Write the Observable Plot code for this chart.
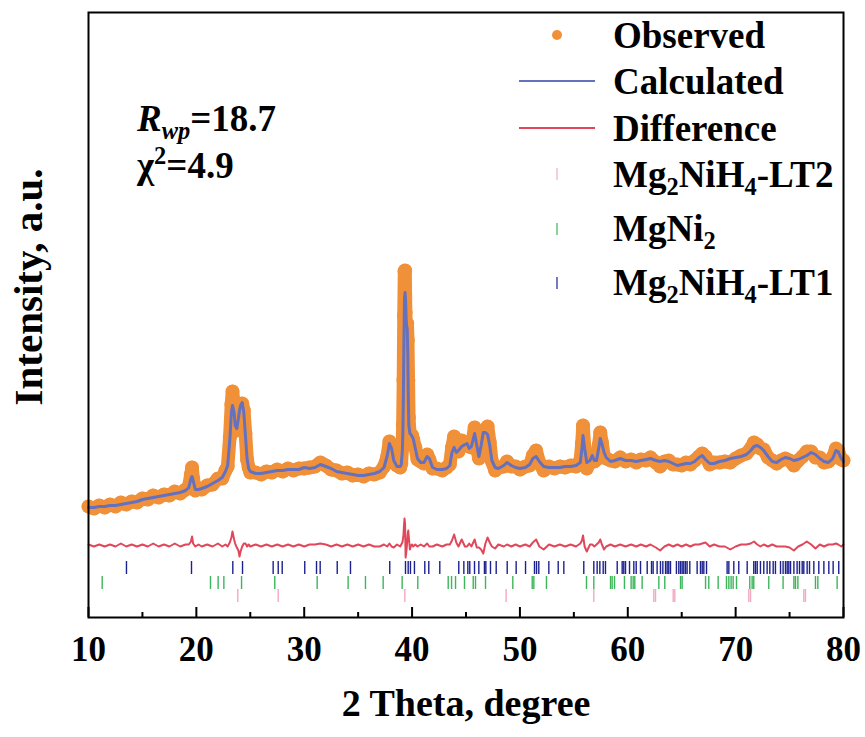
<!DOCTYPE html>
<html><head><meta charset="utf-8">
<script src="https://cdn.jsdelivr.net/npm/d3@7"></script>
<script src="https://cdn.jsdelivr.net/npm/@observablehq/plot@0.6"></script>
<style>html,body{margin:0;padding:0;background:#fff}</style>
</head><body><div id="chart"></div>
<script>
// ---- data (intensity in arbitrary units) ----
const twoTheta = [10.0,10.5,11.0,11.5,12.0,12.5,13.0,13.5,14.0,14.5,15.0,15.5,16.0,16.5,17.0,17.5,18.0,18.5,19.0,19.3,19.5,19.6,19.7,19.9,20.2,20.5,21.0,21.5,22.0,22.4,22.7,22.9,23.1,23.25,23.35,23.5,23.6,23.75,23.9,24.0,24.1,24.25,24.4,24.55,24.7,24.85,25.0,25.5,26.0,26.5,27.0,27.5,28.0,28.5,29.0,29.5,30.0,30.5,31.0,31.5,32.0,32.5,33.0,33.5,34.0,34.5,35.0,35.5,36.0,36.5,37.0,37.4,37.7,37.9,38.1,38.3,38.6,38.9,39.0,39.1,39.15,39.2,39.25,39.3,39.35,39.4,39.45,39.5,39.55,39.6,39.65,39.7,39.8,39.9,40.0,40.1,40.3,40.5,40.8,41.1,41.4,41.6,41.9,42.3,42.8,43.2,43.5,43.7,43.9,44.1,44.3,44.6,44.9,45.1,45.3,45.5,45.8,46.0,46.2,46.4,46.6,46.8,47.0,47.2,47.4,47.7,48.0,48.5,48.8,49.2,49.6,50.0,50.5,50.9,51.2,51.5,51.8,52.2,52.7,53.2,53.7,54.2,54.7,55.2,55.6,55.75,55.85,56.0,56.2,56.5,56.7,56.9,57.1,57.3,57.45,57.6,57.8,58.0,58.4,58.8,59.3,59.8,60.3,60.8,61.2,61.7,62.1,62.6,63.0,63.4,63.8,64.2,64.6,65.0,65.4,65.8,66.2,66.6,66.9,67.2,67.6,68.0,68.5,69.0,69.5,70.0,70.5,71.0,71.4,71.7,72.0,72.3,72.6,73.0,73.4,73.8,74.2,74.6,75.0,75.4,75.8,76.2,76.6,77.0,77.4,77.8,78.2,78.6,79.0,79.3,79.5,79.8,80.0];

const calculated = [110,110,111,111,112,112,113,114,115,116,118,119,120,121,122,123,124,125,127,130,139,141,137,128,128,129,131,134,137,140,146,152,177,205,212,205,192,189,199,207,212,215,205,182,159,149,146,144,144,145,146,147,147,148,148,148,150,149,150,153,151,149,146,145,144,143,142,142,143,144,146,150,162,174,169,157,151,151,153,167,187,227,282,319,325,317,299,291,289,265,222,192,184,183,181,179,169,159,155,155,161,159,150,148,148,149,152,165,170,165,167,171,173,174,169,171,184,172,161,172,185,185,183,172,157,150,149,152,155,152,150,149,150,153,159,161,156,151,150,150,150,151,151,152,155,169,182,169,155,157,162,157,157,169,179,174,165,160,156,157,159,157,157,156,157,158,159,157,156,157,156,154,152,153,154,154,156,160,162,158,154,154,156,157,159,160,161,163,167,171,172,170,167,161,156,155,158,160,159,157,158,160,162,165,163,159,156,155,159,167,166,159,156];

const observed = [111,109,112,110,113,111,115,113,116,115,119,118,122,120,123,122,126,124,128,131,143,150,139,127,129,128,132,133,139,139,147,151,180,213,226,211,194,187,194,196,206,214,207,184,158,150,145,145,143,146,145,148,146,149,147,149,149,150,151,155,152,148,147,144,145,142,143,141,144,143,145,151,161,176,168,155,152,150,154,170,193,237,302,346,347,305,291,288,294,277,237,200,180,183,182,178,170,158,156,154,163,158,149,149,147,150,153,170,181,168,166,177,172,173,171,170,190,170,159,168,177,187,191,175,156,147,150,151,156,151,151,148,151,152,162,167,155,147,151,149,151,150,152,151,157,174,192,168,149,158,163,156,158,172,185,175,161,159,157,156,160,156,158,155,158,157,160,155,151,156,157,153,153,152,155,153,157,161,164,161,153,155,155,156,155,159,162,164,169,175,173,169,168,160,157,154,157,159,157,152,157,161,166,166,160,160,155,156,160,169,167,158,157];

// Bragg reflection positions (2θ, degree)
const lt2Peaks = [23.84,27.59,39.33,48.72,56.85,62.41,62.57,64.21,64.36,71.22,71.38,76.32,76.47];
const mgni2Peaks = [11.27,21.31,22.02,22.55,24.19,27.27,31.2,34.07,35.68,37.32,39.08,40.53,43.35,43.66,44.03,44.86,45.67,45.88,46.81,49.34,51.14,51.29,52.46,56.17,56.85,58.4,58.55,58.77,59.69,60.31,60.5,60.65,61.33,62.88,63.43,64.89,65.04,67.21,67.51,68.38,69.15,69.37,69.58,69.77,70.08,71.31,71.53,71.68,73.07,74.4,75.4,75.55,75.77,77.4,77.62,79.41];
const lt1Peaks = [13.52,19.55,23.38,24.28,27.12,27.59,27.96,30.05,31.14,31.48,33.06,34.29,37.93,39.39,39.64,39.85,40.22,41.18,41.55,42.57,44.33,44.8,45.17,45.35,45.79,46.19,46.71,46.84,47.27,47.8,48.82,49.65,50.52,51.35,51.54,51.75,52.68,53.55,54.07,55.92,56.85,57.16,57.41,57.72,57.93,59.02,59.48,59.63,59.79,60.16,60.56,60.78,61.18,61.8,62.2,62.35,62.72,63.03,63.25,63.5,63.65,63.8,63.96,64.51,64.73,64.89,65.04,65.19,65.35,65.5,65.75,66.43,66.74,66.9,67.05,67.3,69.21,69.37,69.83,70.29,71.07,71.68,71.84,72.0,72.3,72.61,72.92,73.17,73.48,73.69,74.16,74.4,74.62,74.78,74.93,75.09,75.4,75.7,75.92,76.17,76.32,76.63,76.85,77.25,77.71,78.18,78.64,79.04,79.56];

const xTicks = [10,20,30,40,50,60,70,80];
const xMinorTicks = [15,25,35,45,55,65,75];
const xTitle = "2 Theta, degree";
const yTitle = "Intensity, a.u.";
const rwpValue = "18.7";
const chi2Value = "4.9";

// ---- chart ----
const C = {obs:"#f0913a", calc:"#6471bf", diff:"#e1475a", lt2:"#f2a9c4", mgni2:"#3db65a", lt1:"#1c2190"};
const FONT = "'Liberation Serif','Times New Roman',serif";
const diffOffset = 72;
const profile = twoTheta.map((x,i)=>({x, obs:observed[i], calc:calculated[i], diff:observed[i]-calculated[i]}));

const plot = Plot.plot({
  width: 865, height: 737,
  marginLeft: 88, marginRight: 22, marginTop: 12, marginBottom: 120,
  x: {domain:[10,80], axis:null},
  y: {domain:[0,605], axis:null},
  style: {fontFamily: FONT, background:"white", overflow:"visible"},
  marks: [
    Plot.ruleX(lt1Peaks, {x:d=>d, y1:43, y2:56, stroke:C.lt1, strokeWidth:1.4}),
    Plot.ruleX(mgni2Peaks, {x:d=>d, y1:28, y2:41, stroke:C.mgni2, strokeWidth:1.4}),
    Plot.ruleX(lt2Peaks, {x:d=>d, y1:15, y2:28, stroke:C.lt2, strokeWidth:1.4}),
    Plot.line(profile, {x:"x", y:d=>d.diff + diffOffset, stroke:C.diff, strokeWidth:2}),
    Plot.line(profile, {x:"x", y:"obs", stroke:C.obs, strokeWidth:13.5, strokeLinejoin:"round", strokeLinecap:"round"}),
    Plot.dot(profile, {x:"x", y:"obs", r:7, fill:C.obs, stroke:"none"}),
    Plot.line(profile, {x:"x", y:"calc", stroke:C.calc, strokeWidth:3}),
    Plot.ruleX(xTicks, {x:d=>d, y1:0, y2:10, stroke:"black", strokeWidth:2}),
    Plot.ruleX(xMinorTicks, {x:d=>d, y1:0, y2:5, stroke:"black", strokeWidth:2}),
    Plot.text(xTicks, {x:d=>d, y:0, dy:32, text:d=>String(d), fontSize:35, fontWeight:"bold", fill:"black"}),
    Plot.text([xTitle], {frameAnchor:"bottom", dy:98, fontSize:38, fontWeight:"bold", fill:"black"}),
    Plot.text([yTitle], {frameAnchor:"left", textAnchor:"middle", dx:-60, dy:-28, rotate:-90, fontSize:41, fontWeight:"bold", fill:"black"}),
    Plot.frame({stroke:"black", strokeWidth:2})
  ]
});
document.getElementById("chart").appendChild(plot);

// ---- annotations and legend (rich text with sub/superscripts) ----
const svg = d3.select(plot);
function rich(x, y, parts, size) {
  const t = svg.append("text").attr("x", x).attr("y", y).attr("text-anchor", "start")
    .attr("font-family", FONT).attr("font-size", size).attr("font-weight", "bold").attr("fill", "black");
  let shift = 0;
  for (const p of parts) {
    const s = typeof p === "string" ? {t:p} : p;
    const target = s.sub ? size*0.22 : s.sup ? -size*0.38 : 0;
    const ts = t.append("tspan").text(s.t).attr("dy", target - shift);
    shift = target;
    if (s.sub || s.sup) ts.attr("font-size", size*0.66);
    if (s.it) ts.attr("font-style", "italic");
  }
  return t;
}
rich(137, 131, [{t:"R", it:true}, {t:"wp", it:true, sub:true}, "=" + rwpValue], 37);
rich(137, 178, ["χ", {t:"2", sup:true}, "=" + chi2Value], 37);

const legendItems = [
  {type:"dot", color:C.obs, parts:["Observed"], cy:35, base:48},
  {type:"line", color:C.calc, parts:["Calculated"], cy:81, base:94},
  {type:"line", color:C.diff, parts:["Difference"], cy:128, base:141},
  {type:"tick", color:C.lt2, parts:["Mg", {t:"2",sub:true}, "NiH", {t:"4",sub:true}, "-LT2"], cy:174, base:187},
  {type:"tick", color:C.mgni2, parts:["MgNi", {t:"2",sub:true}], cy:229, base:241},
  {type:"tick", color:C.lt1, parts:["Mg", {t:"2",sub:true}, "NiH", {t:"4",sub:true}, "-LT1"], cy:283, base:295}
];
for (const it of legendItems) {
  if (it.type === "dot") svg.append("circle").attr("cx",557).attr("cy",it.cy).attr("r",5).attr("fill",it.color);
  else if (it.type === "line") svg.append("line").attr("x1",519).attr("x2",595).attr("y1",it.cy).attr("y2",it.cy).attr("stroke",it.color).attr("stroke-width",2);
  else svg.append("line").attr("x1",557).attr("x2",557).attr("y1",it.cy-6).attr("y2",it.cy+6).attr("stroke",it.color).attr("stroke-width",1.2);
  rich(613, it.base, it.parts, 37);
}
</script>
</body></html>
